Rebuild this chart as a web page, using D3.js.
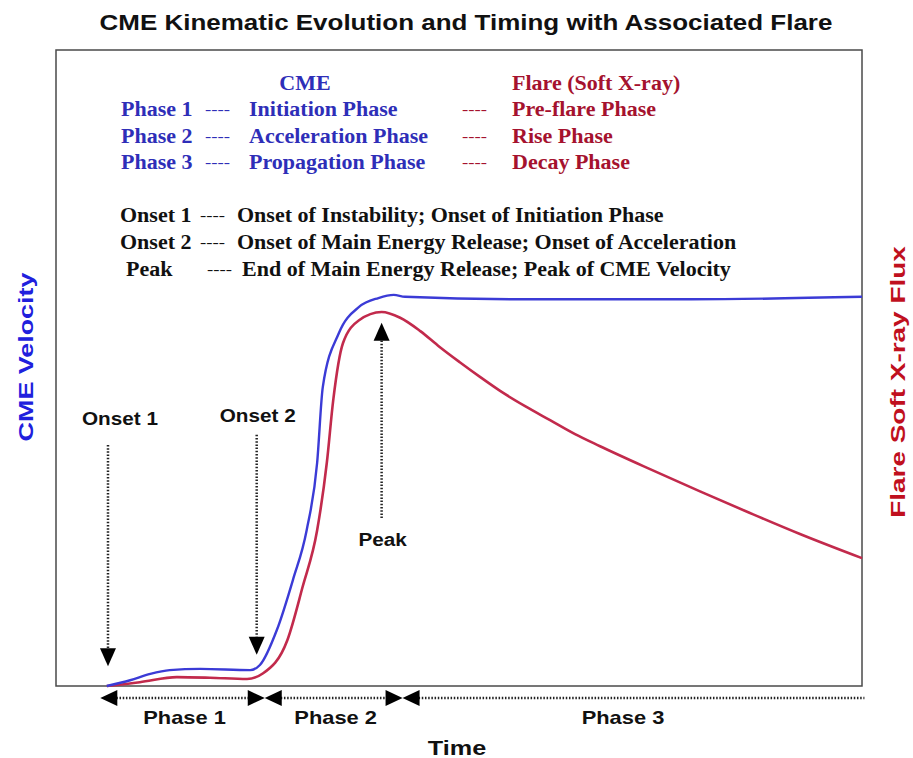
<!DOCTYPE html>
<meta charset="utf-8">
<style>
body { margin: 0; background: #fff; }
svg { display: block; }
.title { font: bold 22px "Liberation Sans", Arial, sans-serif; fill: #111; }
.serif { font-family: "Liberation Serif", "Times New Roman", serif; font-weight: bold; font-size: 20px; }
.lbl { font-family: "Liberation Sans", Arial, sans-serif; font-weight: bold; }
.frame { fill: none; stroke: #4a4a4a; stroke-width: 1.5; }
.dots { stroke: #222; stroke-width: 2.5; stroke-dasharray: 1.5,1.7; fill: none; }
.head { fill: #000; }
</style>
<svg width="913" height="758"></svg>
<script src="https://d3js.org/d3.v7.min.js"></script>
<script>

// curves, in arbitrary time / intensity units (0-100)
var cmeTime = [6.3, 9.2, 11.7, 14.1, 17.9, 24.1, 25.3, 27.4, 29.4, 31.1, 32.4, 33.1, 35.1, 37.6, 40.0, 41.9, 43.3, 59.3, 78.8, 100];
var cmeVel  = [0, 0.9, 1.9, 2.5, 2.7, 2.5, 3.3, 8.8, 16.7, 24.5, 35.1, 47.0, 55.5, 59.6, 61.0, 61.5, 61.2, 60.8, 60.8, 61.2];

var flareTime = [6.3, 10.4, 15.0, 19.1, 23.7, 25.7, 28.7, 30.6, 32.4, 33.6, 34.4, 35.6, 37.6, 40.4, 42.7, 45.2, 47.6, 50.1, 52.6, 55.1, 58.2, 61.3, 64.4, 67.5, 73.7, 79.9, 86.1, 92.3, 100];
var flareFlux = [0, 0.6, 1.4, 1.3, 1.1, 2.0, 7.2, 15.6, 24.5, 35.1, 45.0, 53.9, 57.5, 58.8, 57.9, 55.8, 53.3, 50.9, 48.6, 46.4, 44.0, 41.8, 39.6, 37.7, 34.1, 30.6, 27.2, 23.9, 20.1];

// phase boundaries along the time axis
var phaseBounds = [5.5, 25.9, 43.0, 100.3];
var phaseNames = ["Phase 1", "Phase 2", "Phase 3"];

// annotation arrows: time, label, top/bottom of the dotted shaft
var markerNames = ["Onset 1", "Onset 2", "Peak"];
var markerTime  = [6.45, 24.9, 40.4];
var markerFrom  = [37.9, 39.5, 26.4];
var markerTo    = [3.1, 4.9, 57.1];
var markerText  = [41.0, 41.5, 22.0];

var legendPhases = ["Phase 1", "Phase 2", "Phase 3"];
var cmePhases = ["Initiation Phase", "Acceleration Phase", "Propagation Phase"];
var flarePhases = ["Pre-flare Phase", "Rise Phase", "Decay Phase"];
var onsetNames = ["Onset 1", "Onset 2", "Peak"];
var onsetDesc = [
  "Onset of Instability; Onset of Initiation Phase",
  "Onset of Main Energy Release; Onset of Acceleration",
  "End of Main Energy Release; Peak of CME Velocity"
];

var svg = d3.select("svg"),
    box = { left: 56, top: 50, right: 862, bottom: 686 },
    blue = "#3b3bd6",
    red = "#c22a4c",
    blueText = "#2e2eb8",
    redText = "#a5122e";

var x = d3.scaleLinear().domain([0, 100]).range([box.left, box.right]);
var y = d3.scaleLinear().domain([0, 100]).range([box.bottom, box.top]);

// the source picture is a bit wider than tall, so text runs wider too
function stretch(sel, k) {
  sel.each(function() {
    var len = this.getComputedTextLength();
    d3.select(this).attr("textLength", len * k).attr("lengthAdjust", "spacingAndGlyphs");
  });
  return sel;
}

stretch(svg.append("text")
  .attr("class", "title")
  .attr("x", 466).attr("y", 30)
  .attr("text-anchor", "middle")
  .text("CME Kinematic Evolution and Timing with Associated Flare"), 1.18);

svg.append("rect")
  .attr("class", "frame")
  .attr("x", box.left).attr("y", box.top)
  .attr("width", box.right - box.left)
  .attr("height", box.bottom - box.top);

// legend block
var leg = svg.append("g").attr("class", "serif");
stretch(leg.append("text").attr("x", 305).attr("y", 90).attr("text-anchor", "middle")
  .attr("fill", blueText).text("CME"), 1.1);
stretch(leg.append("text").attr("x", 512).attr("y", 90)
  .attr("fill", redText).text("Flare (Soft X-ray)"), 1.1);

function dashes(xx, yy, color) {
  return stretch(leg.append("text").attr("x", xx).attr("y", yy - 2).attr("fill", color)
    .attr("font-weight", "normal").attr("font-size", 15).text("----"), 1.25);
}

legendPhases.forEach((p, i) => {
  var yy = 116 + i * 26.5;
  stretch(leg.append("text").attr("x", 121).attr("y", yy).attr("fill", blueText).text(p), 1.1);
  dashes(205, yy, blueText);
  stretch(leg.append("text").attr("x", 249).attr("y", yy).attr("fill", blueText).text(cmePhases[i]), 1.1);
  dashes(462, yy, redText);
  stretch(leg.append("text").attr("x", 512).attr("y", yy).attr("fill", redText).text(flarePhases[i]), 1.1);
});

onsetNames.forEach((n, i) => {
  var yy = 222 + i * 27;
  stretch(leg.append("text").attr("x", i == 2 ? 126 : 120).attr("y", yy).attr("fill", "#111").text(n), 1.1);
  dashes(i == 2 ? 207 : 200, yy, "#111");
  stretch(leg.append("text").attr("x", i == 2 ? 242 : 237).attr("y", yy).attr("fill", "#111").text(onsetDesc[i]), 1.1);
});

// axis titles
stretch(svg.append("text")
  .attr("class", "lbl")
  .attr("transform", "translate(33,357) rotate(-90)")
  .attr("text-anchor", "middle")
  .attr("font-size", 21)
  .attr("fill", "#2020dd")
  .text("CME Velocity"), 1.28);

stretch(svg.append("text")
  .attr("class", "lbl")
  .attr("transform", "translate(905,382) rotate(-90)")
  .attr("text-anchor", "middle")
  .attr("font-size", 21)
  .attr("fill", "#c0101e")
  .text("Flare Soft X-ray Flux"), 1.33);

stretch(svg.append("text")
  .attr("class", "lbl")
  .attr("x", 457).attr("y", 755)
  .attr("text-anchor", "middle")
  .attr("font-size", 21)
  .attr("fill", "#111")
  .text("Time"), 1.2);

// curves
var line = d3.line()
  .x(d => x(d[0]))
  .y(d => y(d[1]))
  .curve(d3.curveMonotoneX);

svg.append("path")
  .datum(d3.zip(flareTime, flareFlux))
  .attr("d", line)
  .attr("fill", "none")
  .attr("stroke", red)
  .attr("stroke-width", 2.6);

svg.append("path")
  .datum(d3.zip(cmeTime, cmeVel))
  .attr("d", line)
  .attr("fill", "none")
  .attr("stroke", blue)
  .attr("stroke-width", 2.4);

// onset / peak arrows
markerNames.forEach((n, i) => {
  var px = x(markerTime[i]),
      y1 = y(markerFrom[i]),
      tip = y(markerTo[i]),
      dir = tip > y1 ? 1 : -1,
      base = tip - dir * 18;
  svg.append("line").attr("class", "dots")
    .attr("x1", px).attr("y1", y1)
    .attr("x2", px).attr("y2", base);
  svg.append("path").attr("class", "head")
    .attr("d", "M" + (px - 8) + "," + base + "L" + (px + 8) + "," + base + "L" + px + "," + tip + "Z");
  stretch(svg.append("text")
    .attr("class", "lbl")
    .attr("x", px + (i == 0 ? 12 : 1)).attr("y", y(markerText[i]))
    .attr("text-anchor", "middle")
    .attr("font-size", 18)
    .attr("fill", "#111")
    .text(n), 1.15);
});

// phase arrows under the time axis
var rowY = 698;
phaseNames.forEach((p, i) => {
  var a = x(phaseBounds[i]),
      b = x(phaseBounds[i + 1]),
      last = i == phaseNames.length - 1;
  svg.append("line").attr("class", "dots")
    .attr("x1", a + 16).attr("y1", rowY)
    .attr("x2", last ? b : b - 16).attr("y2", rowY);
  drawHead(a, 1);
  if (!last) drawHead(b, -1);
  stretch(svg.append("text")
    .attr("class", "lbl")
    .attr("x", i == 2 ? 623 : (a + b) / 2 + 2).attr("y", 724)
    .attr("text-anchor", "middle")
    .attr("font-size", 19)
    .attr("fill", "#111")
    .text(p), 1.15);
});

function drawHead(tipX, dir) {
  // dir 1: triangle pointing left with its tip at tipX, -1: pointing right
  return svg.append("path").attr("class", "head")
    .attr("d", "M" + tipX + "," + rowY +
      "L" + (tipX + dir * 17) + "," + (rowY - 8) +
      "L" + (tipX + dir * 17) + "," + (rowY + 8) + "Z");
}
</script>
